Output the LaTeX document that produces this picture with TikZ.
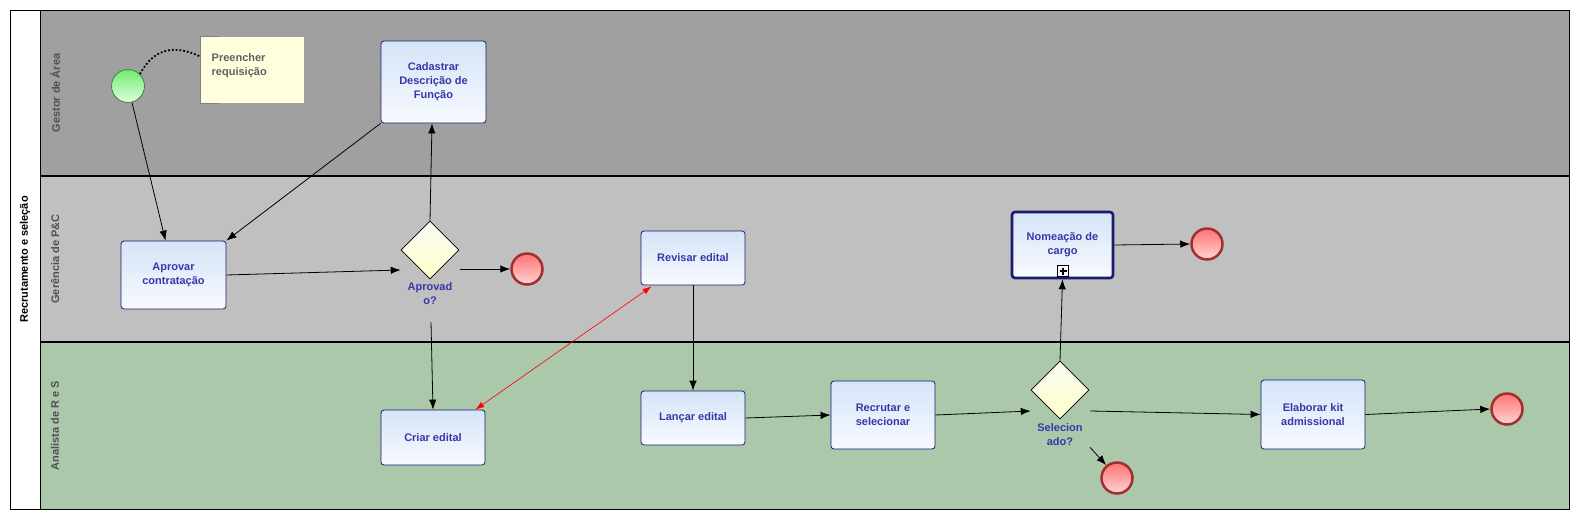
\documentclass[tikz,border=0pt]{standalone}
\usepackage{fontspec}
\setmainfont{Liberation Sans}
\usetikzlibrary{shapes.geometric,arrows.meta,calc}
\definecolor{laneA}{RGB}{160,160,160}
\definecolor{laneB}{RGB}{192,192,192}
\definecolor{laneC}{RGB}{171,200,171}
\definecolor{taskborder}{RGB}{26,26,110}
\definecolor{tasktext}{RGB}{55,55,168}
\definecolor{tasktop}{RGB}{212,228,247}
\definecolor{taskbot}{RGB}{248,250,255}
\definecolor{gwtop}{RGB}{248,250,244}
\definecolor{gwbot}{RGB}{255,255,200}
\definecolor{endborder}{RGB}{160,48,48}
\definecolor{endtop}{RGB}{255,115,115}
\definecolor{endbot}{RGB}{255,212,212}
\definecolor{starttop}{RGB}{110,235,110}
\definecolor{startbot}{RGB}{225,255,225}
\definecolor{startborder}{RGB}{60,130,60}
\definecolor{notefill}{RGB}{255,255,221}
\definecolor{notetextc}{RGB}{96,96,96}
\definecolor{lanetext}{RGB}{80,80,80}
\newcommand{\diafont}{\bfseries\fontsize{11}{14}\selectfont}
\tikzset{
  task/.style={draw=taskborder, line width=0.8pt, rounded corners=3pt,
    top color=tasktop, bottom color=taskbot, text=tasktext, font=\diafont,
    align=center, inner sep=2pt},
  gateway/.style={diamond, draw=black, line width=0.6pt, top color=gwtop,
    bottom color=gwbot, minimum width=58pt, minimum height=58pt, inner sep=0pt},
  endevent/.style={circle, draw=endborder, line width=2.5pt, top color=endtop,
    bottom color=endbot, minimum size=31pt, inner sep=0pt},
  startevent/.style={circle, draw=startborder, line width=0.8pt, top color=starttop,
    bottom color=startbot, minimum size=33pt, inner sep=0pt},
  flow/.style={draw=black, line width=0.8pt, -{Latex[length=10pt,width=7.5pt]}},
  msgflow/.style={draw=red, line width=0.6pt, {Latex[length=9pt,width=6pt]}-{Latex[length=9pt,width=6pt]}},
  lanelabel/.style={rotate=90, text=lanetext, font=\diafont},
  poollabel/.style={rotate=90, text=black, font=\diafont},
  gwlabel/.style={text=tasktext, font=\diafont, align=center},
  notebox/.style={fill=notefill, draw=none, minimum width=103pt, minimum height=66pt, inner sep=0pt},
  notetext/.style={text=notetextc, font=\diafont, align=left, inner sep=0pt},
}
\begin{document}
\begin{tikzpicture}[x=1pt,y=-1pt]
\useasboundingbox (0,0) rectangle (1575,515);
\fill[white] (0,0) rectangle (1575,515);
% lanes
\fill[laneA] (40,10) rectangle (1569,176);
\fill[laneB] (40,176) rectangle (1569,342);
\fill[laneC] (40,342) rectangle (1569,509);
\draw[line width=1pt] (10,10) rectangle (1569,509);
\draw[line width=1pt] (40,10) -- (40,509);
\draw[line width=2pt] (40,176) -- (1569,176);
\draw[line width=2pt] (40,342) -- (1569,342);
% labels
\node[poollabel] (pool) at (25,259.5) {Recrutamento e seleção};
\node[lanelabel] (laneAlab) at (55,93) {Gestor de Área};
\node[lanelabel] (laneBlab) at (55,259) {Gerência de P\&C};
\node[lanelabel] (laneClab) at (55,425.5) {Analista de R e S};
% annotation
\node[notebox] (note) at (252.5,70) {};
\draw[gray, line width=0.8pt] ($(note.north west)+(18,0)$) -- (note.north west) -- (note.south west) -- ($(note.south west)+(18,0)$);
\node[notetext, anchor=north west] (notetxt) at (211.5,53) {Preencher\\requisição};
% events
\node[startevent] (s) at (128,86) {};
\node[endevent] (e1) at (527,269) {};
\node[endevent] (e2) at (1207,244) {};
\node[endevent] (e3) at (1117,478) {};
\node[endevent] (e4) at (1507,409) {};
% tasks
\node[task, minimum width=105pt, minimum height=82pt] (cad) at (433.5,82) {Cadastrar\\Descrição de\\Função};
\node[task, minimum width=105pt, minimum height=68pt] (apr) at (173.5,275) {Aprovar\\contratação};
\node[task, minimum width=104pt, minimum height=54pt] (rev) at (693,258) {Revisar edital};
\node[task, minimum width=104pt, minimum height=54pt] (lan) at (693,418) {Lançar edital};
\node[task, minimum width=104pt, minimum height=68pt] (rec) at (883,415) {Recrutar e\\selecionar};
\node[task, minimum width=104pt, minimum height=55pt] (cri) at (433,437.5) {Criar edital};
\node[task, minimum width=104pt, minimum height=69pt] (ela) at (1313,414.5) {Elaborar kit\\admissional};
\node[task, line width=2.6pt, minimum width=101pt, minimum height=66pt] (nom) at (1062.5,245) {Nomeação de\\cargo};
\node[draw=black, line width=0.8pt, fill=taskbot, minimum size=11pt, inner sep=0pt, rounded corners=0pt] (plus) at (1063,271) {};
\draw[line width=1.6pt] ($(plus.center)+(-3.5,0)$) -- ($(plus.center)+(3.5,0)$)
  ($(plus.center)+(0,-3.5)$) -- ($(plus.center)+(0,3.5)$);
% gateways
\node[gateway] (gw1) at (430,250) {};
\node[gwlabel] (gw1lab) at (430,294) {Aprovad\\o?};
\node[gateway] (gw2) at (1060,390) {};
\node[gwlabel] (gw2lab) at (1060,435) {Selecion\\ado?};
% association
\draw[line width=1.8pt, dotted] (s.45) .. controls (152,52) and (170,42) .. ($(note.north west)+(0,20)$);
% flows
\draw[flow] (s) -- ($(apr.north)+(-8,0)$);
\draw[flow] (cad.south west) -- (apr.north east);
\draw[flow] (gw1.north) -- ($(cad.south)+(-1.5,0)$);
\draw[flow] (apr.east) -- ($(gw1.west)+(0,20)$);
\draw[flow] ($(gw1.east)+(1,19)$) -- (e1.west);
\draw[flow] ($(gw1.south)+(1,43)$) -- (cri.north);
\draw[msgflow] ($(cri.north east)+(-10,0)$) -- ($(rev.south west)+(11,1)$);
\draw[flow] (rev.south) -- (lan.north);
\draw[flow] (lan.east) -- (rec.west);
\draw[flow] (rec.east) -- ($(gw2.west)+(0,21)$);
\draw[flow] ($(gw2.east)+(1,21)$) -- (ela.west);
\draw[flow] ($(gw2.south)+(30,28)$) -- (e3.130);
\draw[flow] (gw2.north) -- (nom.south);
\draw[flow] (nom.east) -- (e2.west);
\draw[flow] (ela.east) -- (e4.west);
\end{tikzpicture}
\end{document}
